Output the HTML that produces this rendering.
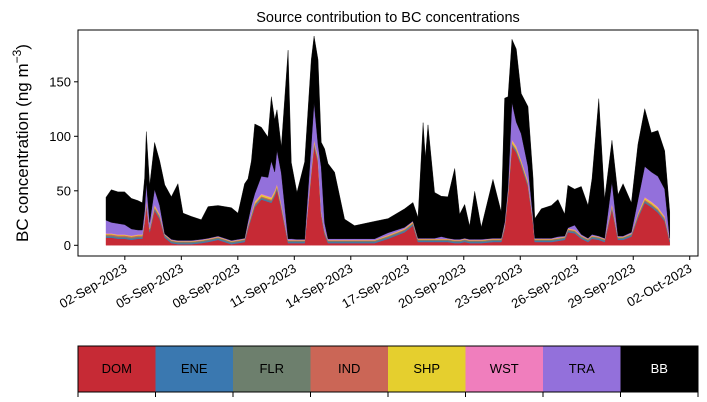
<!DOCTYPE html>
<html><head><meta charset="utf-8"><style>
html,body{margin:0;padding:0;background:#fff;width:707px;height:402px;overflow:hidden}
svg{display:block;font-family:"Liberation Sans","DejaVu Sans",sans-serif}
</style></head><body>
<svg id="chart" width="707" height="402" xmlns="http://www.w3.org/2000/svg">
<text x="388" y="22" text-anchor="middle" font-size="14.5" fill="#000">Source contribution to BC concentrations</text>
<text transform="translate(28,143) rotate(-90)" text-anchor="middle" font-size="17" fill="#000">BC concentration (ng m<tspan baseline-shift="super" font-size="12">−3</tspan>)</text>
<g id="areas"></g>
<rect x="78" y="30" width="620" height="226" fill="none" stroke="#000" stroke-width="1"/>
<g id="yaxis"></g>
<g id="xaxis"></g>
<g id="legend"></g>
</svg>
<script>
const times=[0,0.28,0.64,0.99,1.35,1.70,1.93,2.05,2.14,2.32,2.58,2.85,3.12,3.47,3.82,4.09,4.53,5.06,5.42,5.95,6.66,7.01,7.36,7.54,7.72,7.9,8.25,8.6,8.78,8.96,9.08,9.31,9.67,9.84,10.14,10.55,10.9,11.05,11.26,11.43,11.61,11.79,12.14,12.67,13.2,14.27,14.98,15.86,16.3,16.57,16.84,16.96,17.1,17.45,17.81,18.16,18.52,18.78,19.05,19.31,19.58,19.93,20.55,20.99,21.17,21.35,21.56,21.79,22.05,22.41,22.68,22.77,23.12,23.65,24.0,24.36,24.53,24.89,25.24,25.6,25.81,26.17,26.48,26.87,27.19,27.46,27.9,28.25,28.61,28.96,29.31,29.67,29.94];
const DOM=[7,7,6,6,5,6,6,20,36,12,32,24,7,2,1,1,1,2,3,5,1,2,3,15,25,35,42,40,39,45,51,33,2,2,2,2,65,91,76,27,10,2,2,2,2,2,6,12,18,3,3,3,3,3,3,3,2,2,3,2,2,2,3,3,15,45,91,85,73,54,20,3,3,3,4,5,12,11,6,3,6,5,3,33,5,5,8,25,39,35,30,22,3];
const ENE=[1,1,1,1,1,1,1,1,1,1,1,1,1,1,1,1,1,1,1,1,1,1,1,1,1,1,1,1,1,1,1,1,1,1,1,1,1,1,1,1,1,1,1,1,1,1,1,1,1,1,1,1,1,1,1,1,1,1,1,1,1,1,1,1,1,1,1,1,1,1,1,1,1,1,1,1,1,1,1,1,1,1,1,1,1,1,1,1,1,1,1,1,1];
const FLR=[1,1,1,1,1,1,1,1,1,1,1,1,1,1,1,1,1,1,1,1,1,1,1,1,1,1,1,1,1,1,1,1,1,1,1,1,1,1,1,1,1,1,1,1,1,1,1,1,1,1,1,1,1,1,1,1,1,1,1,1,1,1,1,1,1,1,1,1,1,1,1,1,1,1,1,1,1,1,1,1,1,1,1,1,1,1,1,1,1,1,1,1,1];
const IND=[1,1,1,1,1,1,1,1,1,1,1,1,0.4,0.4,0.4,0.4,0.4,0.4,0.4,0.4,0.4,0.4,0.4,0.8,0.8,1,1,1,1,1,1,1,0.4,0.4,0.4,0.4,1,1,1,1,0.6,0.4,0.4,0.4,0.4,0.4,0.6,0.6,0.6,0.4,0.4,0.4,0.4,0.4,0.4,0.4,0.4,0.4,0.4,0.4,0.4,0.4,0.4,0.4,0.8,1,1,1,1,1,0.6,0.4,0.4,0.4,0.4,0.4,0.6,0.6,0.4,0.4,0.4,0.4,0.4,1,0.4,0.4,0.4,1,1,1,1,1,0.4];
const SHP=[0.6,0.6,0.6,0.6,0.6,0.6,0.6,1,1.5,0.6,1.5,1,0.4,0.4,0.4,0.4,0.4,0.4,0.4,0.4,0.4,0.4,0.4,0.8,1,1.5,1.5,1.5,1.5,1.5,1.5,1.5,0.4,0.4,0.4,0.4,1.5,2,1.5,1,0.6,0.4,0.4,0.4,0.4,0.4,0.6,0.6,0.8,0.4,0.4,0.4,0.4,0.4,0.4,0.4,0.4,0.4,0.4,0.4,0.4,0.4,0.4,0.4,0.8,1.5,2,2,1.5,1.5,0.8,0.4,0.4,0.4,0.4,0.4,0.6,0.6,0.4,0.4,0.4,0.4,0.4,1.5,0.4,0.4,0.4,1,1.5,1.5,1.5,1,0.4];
const WST=[0.4,0.4,0.4,0.4,0.4,0.4,0.4,0.5,0.8,0.4,0.8,0.6,0.2,0.2,0.2,0.2,0.2,0.2,0.2,0.2,0.2,0.2,0.2,0.4,0.5,0.8,0.8,0.8,0.8,0.8,0.8,0.8,0.2,0.2,0.2,0.2,0.8,1,0.8,0.6,0.3,0.2,0.2,0.2,0.2,0.2,0.3,0.3,0.4,0.2,0.2,0.2,0.2,0.2,0.2,0.2,0.2,0.2,0.2,0.2,0.2,0.2,0.2,0.2,0.4,0.8,1,1,0.8,0.8,0.4,0.2,0.2,0.2,0.2,0.2,0.3,0.3,0.2,0.2,0.2,0.2,0.2,0.8,0.2,0.2,0.2,0.6,0.8,0.8,0.8,0.6,0.2];
const TRA=[12,10,10,9,6,4,4,7,16,5,14,8,0.5,0.5,0.5,0.5,0.5,0.5,0.5,0.5,0.5,0.5,0.5,3,7,7,16,17,33,17,31,28,1,1,0.5,0.5,22,34,11,40,7,1,1,1,1,1,2,1,0.5,0.5,0.5,0.5,0.5,0.5,2,0.5,0.5,0.5,0.5,0.5,0.5,0.5,0.5,0.5,2,3,34,22,24,13,2,0.5,0.5,0.5,1,0.5,0.5,4,1,0.5,1,0.5,0.5,20,0.5,0.5,1,12,28,27,28,25,0.5];
const BB=[21,30,29,30,28,27,25,30,47,34,43,41,45,39,52,25,22,18,29,28,30,24,50,39,41,64,45,37,59,48,37,24,173,70,43,71,78,61,78,23,68,69,61,18,12,16,13,17,17,19,106,74,104,42,37,38,65,23,31,12,44,11,54,24,114,83,58,67,37,55,36,18,27,30,34,20,39,33,44,30,51,126,36,38,38,48,27,51,53,36,42,35,24];
const seriesNames=["DOM","ENE","FLR","IND","SHP","WST","TRA","BB"];
const seriesColors=["#c62a35","#3a78b0","#6d7f6d","#cb6656","#e5cf2e","#f07ebd","#9370db","#000000"];
const yTicks=[0,50,100,150];
const xTickDays=[1,4,7,10,13,16,19,22,25,28,31];
const xTickLabels=["02-Sep-2023","05-Sep-2023","08-Sep-2023","11-Sep-2023","14-Sep-2023","17-Sep-2023","20-Sep-2023","23-Sep-2023","26-Sep-2023","29-Sep-2023","02-Oct-2023"];

const NS="http://www.w3.org/2000/svg";
function xs(t){return 106+t*18.83;}
function ys(v){return 245.3-v*1.09;}
const all=[DOM,ENE,FLR,IND,SHP,WST,TRA,BB];
const areas=document.getElementById('areas');
let base=times.map(()=>0);
all.forEach((s,k)=>{
  const top=base.map((b,i)=>b+s[i]);
  let d="M"+times.map((t,i)=>xs(t).toFixed(2)+","+ys(top[i]).toFixed(2)).join("L");
  for(let i=times.length-1;i>=0;i--) d+="L"+xs(times[i]).toFixed(2)+","+ys(base[i]).toFixed(2);
  d+="Z";
  const p=document.createElementNS(NS,"path");
  p.setAttribute("d",d);p.setAttribute("fill",seriesColors[k]);
  p.setAttribute("stroke",seriesColors[k]);p.setAttribute("stroke-width","0.4");
  
  
  areas.appendChild(p);
  base=top;
});
const ya=document.getElementById('yaxis');
yTicks.forEach(v=>{
  const l=document.createElementNS(NS,"line");
  l.setAttribute("x1",74);l.setAttribute("x2",78);l.setAttribute("y1",ys(v));l.setAttribute("y2",ys(v));l.setAttribute("stroke","#000");
  
  
  ya.appendChild(l);
  const tx=document.createElementNS(NS,"text");
  tx.setAttribute("x",71);tx.setAttribute("y",ys(v)+4.5);tx.setAttribute("text-anchor","end");tx.setAttribute("font-size","13");
  tx.textContent=v;
  
  
  ya.appendChild(tx);
});
const xa=document.getElementById('xaxis');
xTickDays.forEach((t,i)=>{
  const x=xs(t);
  const l=document.createElementNS(NS,"line");
  l.setAttribute("x1",x);l.setAttribute("x2",x);l.setAttribute("y1",256);l.setAttribute("y2",260);l.setAttribute("stroke","#000");
  
  
  xa.appendChild(l);
  const tx=document.createElementNS(NS,"text");
  tx.setAttribute("x",x+3);tx.setAttribute("y",271);tx.setAttribute("text-anchor","end");tx.setAttribute("font-size","13");
  tx.setAttribute("transform","rotate(-30 "+(x+3)+" 271)");
  tx.textContent=xTickLabels[i];
  
  
  xa.appendChild(tx);
});
const lg=document.getElementById('legend');
const lw=620/seriesNames.length;
seriesNames.forEach((n,i)=>{
  const x=78+i*lw;
  const r=document.createElementNS(NS,"rect");
  r.setAttribute("x",x);r.setAttribute("y",346);r.setAttribute("width",lw+0.5);r.setAttribute("height",46);r.setAttribute("fill",seriesColors[i]);
  
  
  lg.appendChild(r);
  const tx=document.createElementNS(NS,"text");
  tx.setAttribute("x",x+lw/2);tx.setAttribute("y",373);tx.setAttribute("text-anchor","middle");tx.setAttribute("font-size","13");
  tx.setAttribute("fill",n==="BB"?"#fff":"#000");
  tx.textContent=n;
  
  
  lg.appendChild(tx);
});
for(let i=0;i<=seriesNames.length;i++){
  const x=78+i*lw;
  const l=document.createElementNS(NS,"line");
  l.setAttribute("x1",x);l.setAttribute("x2",x);l.setAttribute("y1",392);l.setAttribute("y2",397);l.setAttribute("stroke","#000");
  
  
  lg.appendChild(l);
}
const fr=document.createElementNS(NS,"rect");
fr.setAttribute("x",78);fr.setAttribute("y",346);fr.setAttribute("width",620);fr.setAttribute("height",46);fr.setAttribute("fill","none");fr.setAttribute("stroke","#000");


lg.appendChild(fr);
</script>
</body></html>
